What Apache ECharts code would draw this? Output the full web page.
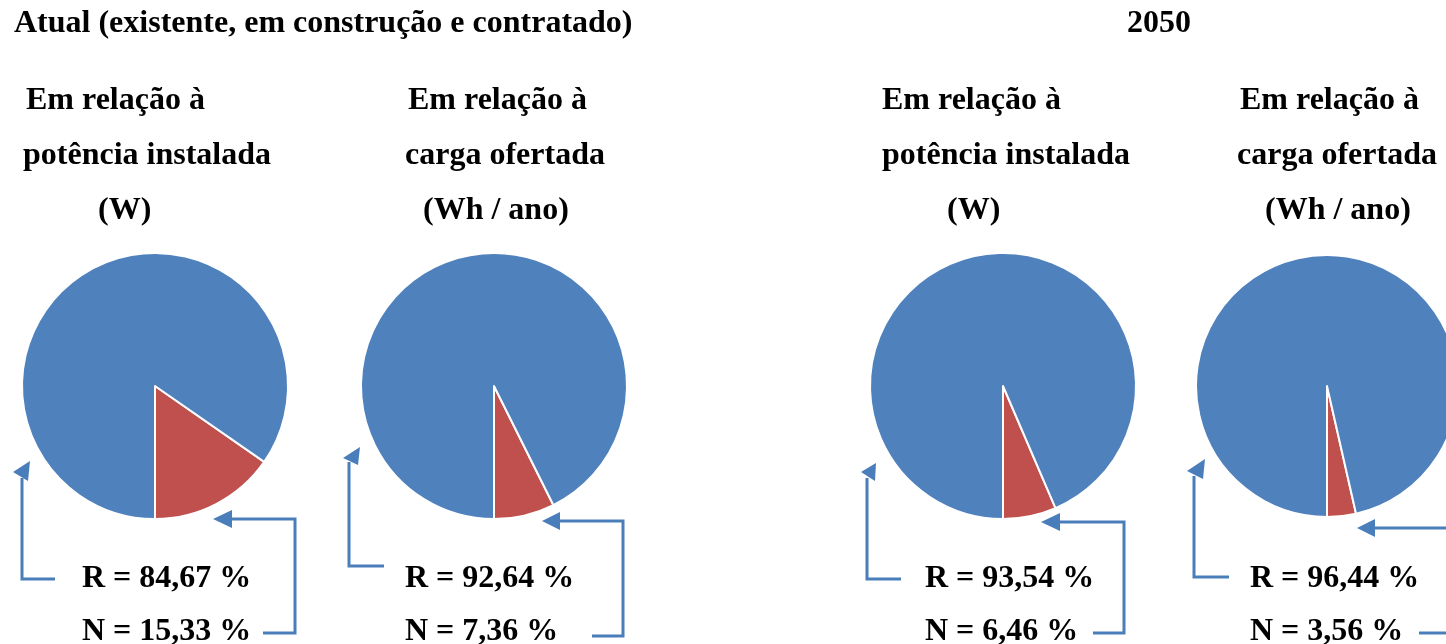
<!DOCTYPE html>
<html>
<head>
<meta charset="utf-8">
<script src="https://cdn.jsdelivr.net/npm/echarts@6/dist/echarts.min.js"></script>
<style>
  html, body { margin: 0; padding: 0; background: #ffffff; }
  #chart { width: 1446px; height: 644px; }
</style>
</head>
<body>
<div id="chart"></div>
<script>
// Period headings
const periodTitles = ['Atual (existente, em construção e contratado)', '2050'];

// Three-line caption above each pie
const captionLines = [
  ['Em relação à', 'potência instalada', '(W)'],
  ['Em relação à', 'carga ofertada', '(Wh / ano)'],
  ['Em relação à', 'potência instalada', '(W)'],
  ['Em relação à', 'carga ofertada', '(Wh / ano)']
];

// Shares in percent: R and N
const shareR = [84.67, 92.64, 93.54, 96.44];
const shareN = [15.33, 7.36, 6.46, 3.56];
const sliceNames = ['N', 'R'];

// ---- presentation ----
const BLUE = '#4F81BD';
const RED = '#C0504D';
const ARROW = '#4A7EBB';
const FONT = 'bold 32px "Liberation Serif", "Times New Roman", serif';

const periodTitlePos = [{ x: 14, y: 24, align: 'left' }, { x: 1159, y: 24, align: 'center' }];

const pieLayout = [
  { cx: 155, cy: 386, r: 133 },
  { cx: 494, cy: 386, r: 133 },
  { cx: 1003, cy: 386, r: 133 },
  { cx: 1327, cy: 386, r: 131 }
];

// left x of each caption line, per pie
const captionX = [
  [26, 23, 98],
  [408, 405, 423],
  [882, 882, 947],
  [1240, 1237, 1265]
];
const captionY = [101, 156, 211];

const valueLabelX = [82, 405, 925, 1250];
const valueLabelY = [579, 632];

// connector arrows: polyline + arrowhead triangle
const leftArrows = [
  { line: [[55, 579], [22, 579], [22, 478]], head: [[13, 472], [30, 461], [28, 481]] },
  { line: [[384, 566], [349, 566], [349, 462]], head: [[343, 458], [360, 447], [358, 465]] },
  { line: [[901, 579], [867, 579], [867, 478]], head: [[861, 472], [876, 463], [875, 481]] },
  { line: [[1229, 577], [1194, 577], [1194, 476]], head: [[1187, 471], [1205, 459], [1203, 479]] }
];
const rightArrows = [
  { line: [[263, 633], [295, 633], [295, 519], [231, 519]], head: [[232, 510], [213, 519], [232, 528]] },
  { line: [[592, 636], [623, 636], [623, 521], [559, 521]], head: [[560, 512], [542, 521], [560, 530]] },
  { line: [[1093, 633], [1124, 633], [1124, 522], [1059, 522]], head: [[1060, 513], [1041, 522], [1060, 531]] },
  { line: [[1419, 633], [1470, 633], [1470, 528], [1374, 528]], head: [[1375, 519], [1357, 528], [1375, 537]] }
];

function pct(v) {
  return v.toFixed(2).replace('.', ',') + ' %';
}

function textEl(str, x, y, align) {
  return {
    type: 'text',
    silent: true,
    style: {
      text: str, x: x, y: y, font: FONT, fill: '#000000',
      align: align, textAlign: align,
      verticalAlign: 'middle', textVerticalAlign: 'middle'
    }
  };
}

const graphics = [];
periodTitles.forEach((t, i) => {
  const p = periodTitlePos[i];
  graphics.push(textEl(t, p.x, p.y, p.align));
});
captionLines.forEach((lines, i) => {
  lines.forEach((ln, j) => graphics.push(textEl(ln, captionX[i][j], captionY[j], 'left')));
});
shareR.forEach((v, i) => {
  graphics.push(textEl('R = ' + pct(v), valueLabelX[i], valueLabelY[0], 'left'));
  graphics.push(textEl('N = ' + pct(shareN[i]), valueLabelX[i], valueLabelY[1], 'left'));
});
leftArrows.concat(rightArrows).forEach(a => {
  graphics.push({
    type: 'polyline', silent: true,
    shape: { points: a.line },
    style: { stroke: ARROW, lineWidth: 3, fill: null }
  });
  graphics.push({
    type: 'polygon', silent: true,
    shape: { points: a.head },
    style: { fill: ARROW, stroke: null }
  });
});

const series = pieLayout.map((p, i) => ({
  type: 'pie',
  center: [p.cx, p.cy],
  radius: p.r,
  startAngle: 270,
  clockwise: false,
  silent: true,
  label: { show: false },
  labelLine: { show: false },
  emphasis: { disabled: true },
  itemStyle: { borderColor: '#ffffff', borderWidth: 2 },
  data: [
    { name: sliceNames[0], value: shareN[i], itemStyle: { color: RED } },
    { name: sliceNames[1], value: shareR[i], itemStyle: { color: BLUE } }
  ]
}));

const chart = echarts.init(document.getElementById('chart'), null, { renderer: 'canvas' });
chart.setOption({
  backgroundColor: '#ffffff',
  animation: false,
  tooltip: { show: false },
  legend: { show: false },
  series: series,
  graphic: { elements: graphics }
});
</script>
</body>
</html>
